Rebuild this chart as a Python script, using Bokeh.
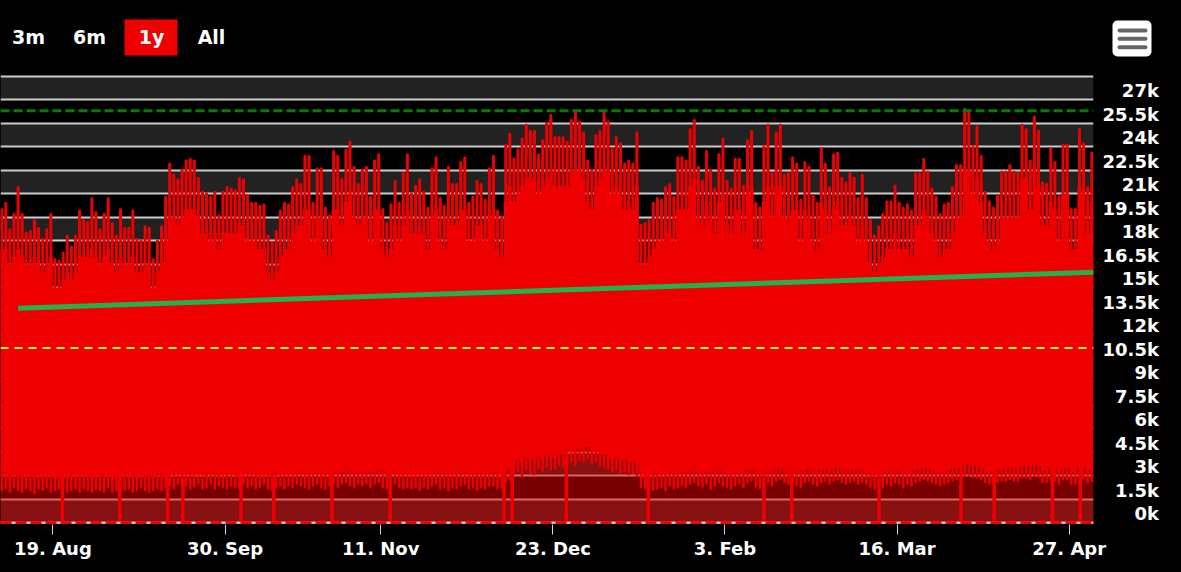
import pandas as pd
from bokeh.plotting import figure
from bokeh.layouts import column, row
from bokeh.models import Range1d, FixedTicker, BoxAnnotation, Span
from bokeh.core.properties import value
from bokeh.embed import file_html
from bokeh.resources import INLINE

# ------------------------------------------------------------------ data
start_date = "2019-08-06"
missing_days = ["2019-10-20", "2019-10-21", "2019-10-22", "2019-10-23"]

# daily highest spike (thousands)
peak_k = [
    20.0, 20.4, 18.7, 19.7, 21.4, 19.7, 18.5, 18.6, 19.3, 18.8,
    18.1, 18.7, 19.7, 16.8, 16.7, 17.2, 18.3, 17.6, 18.3, 19.9,
    19.3, 19.2, 20.7, 19.8, 18.7, 19.7, 20.7, 19.1, 18.3, 20.0,
    18.8, 18.8, 19.9, 18.1, 18.0, 18.9, 18.8, 16.8, 18.0, 18.9,
    20.8, 22.9, 22.2, 21.9, 22.5, 23.1, 23.2, 23.1, 22.0, 21.1,
    21.0, 20.8, 21.1, 19.6, 21.1, 21.4, 21.3, 21.2, 22.0, 21.9,
    20.9, 20.4, 20.4, 20.2, 20.3, 18.3, 17.9, 18.6, 19.9, 20.4,
    20.3, 21.4, 21.9, 21.6, 23.4, 23.4, 20.4, 22.6, 22.6, 20.1,
    19.6, 23.7, 23.4, 21.9, 23.8, 24.3, 22.7, 21.6, 22.5, 22.7,
    20.8, 23.1, 23.5, 20.0, 19.1, 20.3, 21.8, 20.4,
    22.3, 23.5, 21.0, 21.5, 21.9, 21.1, 20.1, 22.6, 23.3, 20.7,
    20.2, 22.7, 21.6, 21.6, 23.0, 23.3, 20.4, 20.8, 21.8, 21.6,
    20.6, 22.6, 23.4, 19.9, 19.5, 24.1, 24.8, 23.2, 23.8, 24.5,
    25.4, 25.0, 25.0, 23.5, 24.4, 25.5, 26.0, 24.6, 24.6, 24.6,
    24.3, 25.7, 26.2, 25.6, 24.9, 23.1, 22.5, 24.7, 25.0, 26.3,
    25.6, 23.9, 24.6, 24.2, 22.9, 23.1, 22.9, 24.9, 19.0, 19.1,
    19.3, 20.4, 20.7, 20.6, 21.4, 21.6, 20.8, 23.3, 23.3, 23.1,
    25.1, 25.7, 22.7, 21.8, 23.7, 22.5, 21.3, 23.5, 24.5, 21.8,
    21.3, 23.2, 23.2, 21.5, 24.4, 25.0, 20.4, 20.1, 24.0, 25.4,
    22.3, 24.9, 25.4, 22.2, 22.3, 23.3, 22.9,
    20.6, 23.0, 22.7, 20.9, 20.4, 23.9, 22.9, 21.4, 23.5, 23.6,
    22.0, 21.7, 22.3, 22.0, 20.7, 22.2, 20.7, 19.3, 18.3, 18.9,
    19.7, 20.5, 20.5, 21.5, 20.4, 20.1, 20.3, 19.9, 22.3, 22.3,
    23.2, 22.4, 21.3, 20.8, 19.7, 20.3, 20.4, 21.4, 22.8, 22.8,
    26.4, 26.3, 24.0, 25.3, 23.4, 21.1, 20.5, 20.1, 20.9, 22.4,
    22.4, 22.8, 22.4, 22.3, 25.4, 25.1, 23.1, 25.9, 25.0, 21.7,
    21.6, 23.9, 23.0, 20.8, 24.1, 24.1, 20.0, 20.0, 25.1, 24.2,
    21.4, 23.6,
]

# top of the solid daily block (thousands)
body_k = [
    17.5, 17.5, 16.5, 17.0, 17.5, 17.0, 16.5, 16.5, 17.0, 16.5,
    16.0, 16.5, 17.0, 15.0, 15.0, 15.5, 16.0, 15.5, 16.0, 17.0,
    17.0, 17.0, 17.5, 17.0, 16.5, 17.0, 17.5, 16.5, 16.0, 17.0,
    16.5, 16.5, 17.0, 16.0, 16.0, 16.5, 16.5, 15.0, 16.0, 16.5,
    18.0, 19.5, 19.5, 19.0, 19.5, 20.0, 20.0, 20.0, 19.5, 18.5,
    18.5, 18.0, 18.5, 17.5, 18.5, 18.5, 18.5, 18.5, 19.0, 19.0,
    18.0, 18.0, 18.0, 17.5, 17.5, 16.0, 15.5, 16.0, 17.0, 17.5,
    17.5, 18.5, 19.0, 19.0, 20.0, 20.0, 18.0, 19.5, 19.5, 17.5,
    17.0, 20.0, 20.0, 19.0, 20.5, 21.0, 19.5, 19.0, 19.5, 19.5,
    18.0, 20.0, 20.0, 17.5, 17.0, 17.5, 19.0, 18.0,
    19.0, 20.0, 18.5, 18.5, 19.0, 18.5, 17.5, 19.5, 20.0, 18.0,
    17.5, 19.5, 19.0, 19.0, 20.0, 20.0, 18.0, 18.0, 19.0, 19.0,
    18.0, 19.5, 20.0, 17.5, 17.0, 20.5, 21.5, 20.5, 21.0, 21.5,
    22.0, 22.0, 22.0, 21.0, 21.5, 22.0, 22.5, 21.5, 21.5, 21.5,
    21.5, 22.5, 22.5, 22.5, 22.0, 20.5, 20.0, 21.5, 22.0, 22.5,
    22.5, 21.0, 21.5, 21.0, 20.0, 20.5, 20.0, 21.5, 16.5, 16.5,
    17.0, 17.5, 18.0, 18.0, 18.5, 18.5, 18.0, 20.0, 20.0, 20.0,
    21.5, 22.0, 19.5, 19.0, 20.5, 19.5, 18.5, 20.5, 21.0, 19.0,
    18.5, 20.0, 20.0, 18.5, 21.0, 21.5, 17.5, 17.5, 20.5, 21.5,
    19.5, 21.5, 21.5, 19.5, 19.5, 20.0, 20.0,
    18.0, 20.0, 19.5, 18.0, 17.5, 20.5, 20.0, 18.5, 20.0, 20.5,
    19.0, 19.0, 19.5, 19.0, 18.0, 19.0, 18.0, 16.5, 16.0, 16.5,
    17.0, 17.5, 17.5, 18.5, 17.5, 17.5, 17.5, 17.0, 19.0, 19.0,
    20.0, 19.5, 18.5, 18.0, 17.0, 17.5, 17.5, 18.5, 19.5, 19.5,
    22.5, 22.5, 21.0, 22.0, 20.5, 18.5, 18.0, 17.5, 18.0, 19.5,
    19.5, 19.5, 19.5, 19.5, 22.0, 22.0, 20.0, 22.5, 21.5, 19.0,
    19.0, 20.5, 20.0, 18.0, 21.0, 21.0, 17.5, 17.5, 21.5, 21.0,
    18.5, 20.5,
]

# bottom of the solid block, i.e. top of the dark fill (thousands)
floor_k = [
    2.9, 3.0, 2.8, 3.0, 2.9, 2.8, 3.0, 2.9, 2.8, 3.0,
    2.9, 3.0, 2.9, 2.8, 2.9, 3.0, 2.8, 2.9, 3.0, 2.9,
    3.0, 2.9, 2.8, 3.0, 2.9, 2.9, 3.0, 2.8, 2.9, 3.0,
    2.9, 3.0, 2.9, 2.8, 3.0, 2.9, 2.9, 2.8, 3.0, 2.9,
    3.0, 3.1, 3.0, 3.1, 3.0, 3.1, 3.0, 3.0, 3.1, 3.0,
    3.0, 3.1, 3.0, 3.0, 3.1, 3.0, 3.1, 3.0, 3.0, 3.1,
    3.0, 3.1, 3.0, 3.0, 3.1, 3.0, 2.9, 3.0, 3.1, 3.0,
    3.1, 3.0, 3.1, 3.2, 3.1, 3.0, 3.1, 3.2, 3.1, 3.0,
    3.1, 3.2, 3.1, 3.2, 3.3, 3.2, 3.1, 3.2, 3.1, 3.2,
    3.1, 3.2, 3.3, 3.1, 3.0, 3.1, 3.2, 3.1, 3.0, 3.1,
    3.0, 3.1, 3.0, 3.1, 3.0, 3.1, 3.2, 3.0, 3.1, 3.0,
    3.1, 3.0, 3.1, 3.2, 3.0, 3.1, 3.0, 3.1, 3.0, 3.1,
    3.2, 3.0, 3.1, 3.3, 3.5,
    3.9, 4.0, 3.8, 4.1, 4.0, 3.9, 4.2, 4.0, 4.3, 4.1,
    4.2, 4.4, 4.3, 4.5, 4.6, 4.4, 4.7, 4.6, 4.8, 4.5,
    4.6, 4.4, 4.3, 4.2, 4.0, 4.1, 3.9, 4.0, 3.8, 3.9, 3.7,
    3.1, 3.0, 3.1, 3.0, 3.0, 3.1, 3.0, 3.1, 3.0, 3.1,
    3.2, 3.1, 3.2, 3.3, 3.2, 3.1, 3.2, 3.1, 3.2, 3.3,
    3.2, 3.1, 3.0, 3.1, 3.2, 3.1, 3.3, 3.4, 3.1, 3.0,
    3.2, 3.3, 3.2, 3.4, 3.5, 3.3, 3.2, 3.3, 3.2, 3.1,
    3.3, 3.4, 3.2, 3.1, 3.3, 3.4, 3.2, 3.4, 3.5, 3.3,
    3.2, 3.3, 3.4, 3.2, 3.3, 3.2, 3.0, 3.0, 3.1, 3.1,
    3.2, 3.2, 3.3, 3.2, 3.1, 3.2, 3.1, 3.3, 3.4, 3.5,
    3.4, 3.3, 3.2, 3.1, 3.2, 3.3, 3.4, 3.5, 3.5, 3.7,
    3.7, 3.6, 3.6, 3.5, 3.3, 3.2, 3.2, 3.3, 3.4, 3.4,
    3.5, 3.4, 3.4, 3.6, 3.6, 3.5, 3.7, 3.6, 3.3, 3.3,
    3.5, 3.4, 3.2, 3.5, 3.5, 3.2, 3.2, 3.6, 3.5, 3.3, 3.4,
]

# daily lowest dip (thousands)
trough_k = [
    2.1, 2.2, 2.0, 2.3, 2.1, 2.0, 2.2, 2.1, 1.9, 2.2,
    2.1, 2.3, 2.0, 2.1, 2.2, 2.3, 2.0, 2.1, 2.2, 2.0,
    2.2, 2.1, 2.0, 2.2, 2.1, 2.0, 2.3, 2.0, 2.1, 2.2,
    2.1, 2.2, 2.0, 2.1, 2.3, 2.1, 2.0, 2.1, 2.2, 2.1,
    2.3, 2.4, 2.2, 2.5, 2.3, 2.4, 2.2, 2.3, 2.5, 2.2,
    2.3, 2.5, 2.2, 2.4, 2.3, 2.2, 2.4, 2.3, 2.2, 2.5,
    2.3, 2.4, 2.2, 2.3, 2.5, 2.2, 2.1, 2.3, 2.4, 2.2,
    2.4, 2.3, 2.5, 2.4, 2.3, 2.2, 2.4, 2.5, 2.3, 2.2,
    2.4, 2.5, 2.3, 2.5, 2.6, 2.4, 2.3, 2.5, 2.4, 2.5,
    2.3, 2.5, 2.6, 2.3, 2.2, 2.4, 2.5, 2.3, 2.2, 2.3,
    2.2, 2.3, 2.1, 2.3, 2.2, 2.4, 2.5, 2.2, 2.3, 2.1,
    2.3, 2.2, 2.4, 2.5, 2.2, 2.3, 2.1, 2.3, 2.2, 2.4,
    2.4, 2.2, 2.3, 2.6, 2.8,
    3.2, 3.3, 3.0, 3.4, 3.2, 3.1, 3.5, 3.3, 3.6, 3.4,
    3.5, 3.7, 3.6, 3.8, 3.9, 3.7, 4.0, 3.9, 4.1, 3.8,
    3.9, 3.7, 3.6, 3.5, 3.3, 3.4, 3.2, 3.3, 3.1, 3.2, 3.0,
    2.3, 2.2, 2.4, 2.1, 2.2, 2.3, 2.1, 2.4, 2.2, 2.3,
    2.4, 2.3, 2.5, 2.6, 2.4, 2.3, 2.5, 2.2, 2.4, 2.6,
    2.4, 2.3, 2.2, 2.4, 2.5, 2.3, 2.6, 2.7, 2.3, 2.2,
    2.5, 2.6, 2.4, 2.7, 2.8, 2.6, 2.5, 2.6, 2.4, 2.3,
    2.6, 2.7, 2.5, 2.4, 2.6, 2.7, 2.5, 2.7, 2.8, 2.6,
    2.5, 2.6, 2.7, 2.5, 2.6, 2.5, 2.3, 2.2, 2.4, 2.3,
    2.5, 2.4, 2.6, 2.5, 2.3, 2.5, 2.4, 2.6, 2.7, 2.8,
    2.7, 2.6, 2.5, 2.4, 2.5, 2.6, 2.7, 2.8, 2.8, 3.0,
    3.0, 2.9, 2.9, 2.8, 2.6, 2.5, 2.5, 2.6, 2.7, 2.7,
    2.8, 2.7, 2.7, 2.9, 2.9, 2.8, 3.0, 2.9, 2.6, 2.6,
    2.8, 2.7, 2.5, 2.8, 2.8, 2.5, 2.5, 2.9, 2.8, 2.6, 2.7,
]

# hours where the series fell to zero
zero_drop_times = [
    "2019-08-21 08:00", "2019-09-04 07:00", "2019-09-16 00:00", "2019-09-19 17:00",
    "2019-10-03 22:00", "2019-10-11 22:00", "2019-10-30 02:00", "2019-11-13 07:00",
    "2019-12-11 02:00", "2019-12-13 02:00", "2019-12-26 07:00", "2020-01-15 07:00",
    "2020-02-12 12:00", "2020-02-19 07:00", "2020-03-11 14:00", "2020-03-31 14:00",
    "2020-04-08 17:00", "2020-04-22 22:00", "2020-04-29 17:00",
]

trend_times = ["2019-08-10 12:00", "2020-05-03 00:00"]
trend_values = [13700, 16000]
yellow_level = 11150
green_level = 26300

x_tick_dates = ["2019-08-19", "2019-09-30", "2019-11-11", "2019-12-23",
                "2020-02-03", "2020-03-16", "2020-04-27"]
x_tick_labels = ["19. Aug", "30. Sep", "11. Nov", "23. Dec", "3. Feb", "16. Mar", "27. Apr"]
y_tick_values = [0, 1500, 3000, 4500, 6000, 7500, 9000, 10500, 12000, 13500, 15000,
                 16500, 18000, 19500, 21000, 22500, 24000, 25500, 27000, 28500]
y_label_values = y_tick_values[:-1]

range_buttons = ["3m", "6m", "1y", "All"]
selected_button = "1y"

# ------------------------------------------------------------------ ordinal x positions
n = len(peak_k)
assert len(body_k) == n and len(floor_k) == n and len(trough_k) == n, (n, len(body_k), len(floor_k), len(trough_k))
all_days = pd.date_range(start_date, periods=n + len(missing_days), freq="D")
skip = set(pd.to_datetime(missing_days))
days = [d for d in all_days if d not in skip]
index_of = {d: i for i, d in enumerate(days)}


def pos(ts):
    t = pd.Timestamp(ts)
    d = t.normalize()
    frac = (t - d) / pd.Timedelta(days=1)
    if d in index_of:
        return index_of[d] + frac
    return len(days) - 1 + (d - days[-1]).days + frac


def th(v):
    return int(round(v * 1000))


xc = [i + 0.5 for i in range(n)]
peak = [th(v) for v in peak_k]
body = [th(v) for v in body_k]
floor_ = [th(v) for v in floor_k]
trough = [th(v) for v in trough_k]

step_x, step_floor, step_body = [], [], []
for i in range(n):
    step_x += [i, i + 1]
    step_floor += [floor_[i], floor_[i]]
    step_body += [body[i], body[i]]

# ------------------------------------------------------------------ styling constants
W, H_TOP, H_MAIN = 1181, 60, 512
FRAME_W = 1093
PX_PER_DAY = 4.098
X0 = 0.21
RED = "#ee0000"
FONT = "DejaVu Sans"


def strip(width, x_start):
    f = figure(width=width, height=H_TOP, x_range=Range1d(x_start, x_start + width),
               y_range=Range1d(0, H_TOP), output_backend="svg", toolbar_location=None,
               x_axis_location=None, y_axis_location=None, min_border=0)
    f.background_fill_color = "black"
    f.border_fill_color = "black"
    f.outline_line_color = None
    f.xgrid.visible = False
    f.ygrid.visible = False
    return f


# ------------------------------------------------------------------ top strip: range selector
top_left = strip(FRAME_W, 0)
button_x = [28, 89, 151, 211]
sel = range_buttons.index(selected_button)
top_left.quad(left=button_x[sel] - 27, right=button_x[sel] + 26, bottom=5, top=41,
              fill_color=RED, line_color=None)
top_left.text(x=button_x, y=[23.5] * 4, text=range_buttons, text_align="center",
              text_baseline="middle", text_color="white", text_font=value(FONT),
              text_font_style="bold", text_font_size="19px")

# ------------------------------------------------------------------ top strip: menu icon
top_right = strip(W - FRAME_W, FRAME_W)
top_right.add_layout(BoxAnnotation(left=1112, right=1151, bottom=4, top=40, fill_color="white",
                                   fill_alpha=1.0, line_color=None, border_radius=5,
                                   level="underlay"))
top_right.segment(x0=1119, x1=1145, y0=[30, 21.7, 13.3], y1=[30, 21.7, 13.3],
                  line_color="#666666", line_width=4, line_cap="round")

# ------------------------------------------------------------------ main chart
main = figure(width=W, height=H_MAIN, output_backend="svg", toolbar_location=None,
              x_range=Range1d(X0, X0 + FRAME_W / PX_PER_DAY), y_range=Range1d(-110, 29510),
              y_axis_location="right", min_border_left=0, min_border_top=0,
              min_border_right=W - FRAME_W, min_border_bottom=H_MAIN - 464)
main.background_fill_color = "black"
main.border_fill_color = "black"
main.outline_line_color = None

# alternate grid bands
for i in range(len(y_tick_values) - 1):
    if i % 2 == 0:
        main.add_layout(BoxAnnotation(bottom=y_tick_values[i], top=y_tick_values[i + 1],
                                      fill_color="#222222", fill_alpha=1.0, line_color=None,
                                      level="image"))

main.xgrid.visible = False
main.ygrid.ticker = FixedTicker(ticks=y_tick_values)
main.ygrid.grid_line_color = "#cccccc"
main.ygrid.grid_line_width = 2

# translucent fill under the series
main.varea(x=step_x, y1=0, y2=step_floor, fill_color=RED, fill_alpha=0.5)
# solid part of each day
main.varea(x=step_x, y1=step_floor, y2=step_body, fill_color=RED, fill_alpha=1.0)
# daily spikes
main.segment(x0=xc, x1=xc, y0=body, y1=peak, line_color=RED, line_width=3, line_cap="round")
# daily dips
main.segment(x0=xc, x1=xc, y0=trough, y1=floor_, line_color=RED, line_width=2.5, line_cap="round")
# drops to zero
zx = [pos(t) for t in zero_drop_times]
ztop = [floor_[min(int(p), n - 1)] for p in zx]
main.segment(x0=zx, x1=zx, y0=[0] * len(zx), y1=ztop, line_color=RED, line_width=3.5)

# trend line
main.line(x=[pos(t) for t in trend_times], y=trend_values, line_color="#22b14c", line_width=5)

main.add_layout(Span(location=yellow_level, dimension="width", line_color="#ffff00",
                     line_width=2, line_dash="8 6"))
main.add_layout(Span(location=green_level, dimension="width", line_color="#008000",
                     line_width=3, line_dash="9 4"))
main.add_layout(Span(location=0, dimension="width", line_color="#ccd6eb", line_width=2))
main.add_layout(Span(location=0, dimension="width", line_color=RED, line_width=3,
                     line_dash="11 4"))

# x axis (ordinal dates)
x_tick_pos = [int(round(pos(d))) for d in x_tick_dates]
main.xaxis.ticker = FixedTicker(ticks=x_tick_pos)
main.xaxis.major_label_overrides = dict(zip(x_tick_pos, x_tick_labels))
main.xaxis.axis_line_color = None
main.xaxis.major_tick_line_color = "#ccd6eb"
main.xaxis.major_tick_out = 10
main.xaxis.major_tick_in = 0
main.xaxis.minor_tick_line_color = None
main.xaxis.major_label_standoff = 3
main.xaxis.major_label_text_color = "white"
main.xaxis.major_label_text_font = FONT
main.xaxis.major_label_text_font_style = "bold"
main.xaxis.major_label_text_font_size = "18px"

# y axis (labels sit above their grid lines, right aligned)
FIG_SP, PUN_SP = "\u2007", "\u2008"


def pad(lbl):
    nd = sum(c.isdigit() for c in lbl)
    npd = lbl.count(".")
    return FIG_SP * (3 - nd) + PUN_SP * (1 - npd) + lbl


label_shift = 580
main.yaxis.ticker = FixedTicker(ticks=[v + label_shift for v in y_label_values])
main.yaxis.major_label_overrides = {v + label_shift: pad(f"{v / 1000:g}k") for v in y_label_values}
main.yaxis.axis_line_color = None
main.yaxis.major_tick_line_color = None
main.yaxis.minor_tick_line_color = None
main.yaxis.major_tick_out = 0
main.yaxis.major_tick_in = 0
main.yaxis.major_label_standoff = 9
main.yaxis.major_label_text_color = "white"
main.yaxis.major_label_text_font = FONT
main.yaxis.major_label_text_font_style = "bold"
main.yaxis.major_label_text_font_size = "18px"

layout = column(row(top_left, top_right, spacing=0), main, spacing=0)
html = file_html(layout, INLINE, title="chart")
html = html.replace("</head>",
                    "<style>html,body{margin:0;padding:0;background:#000000;overflow:hidden;}</style>\n</head>",
                    1)
open("out.html", "w").write(html)
